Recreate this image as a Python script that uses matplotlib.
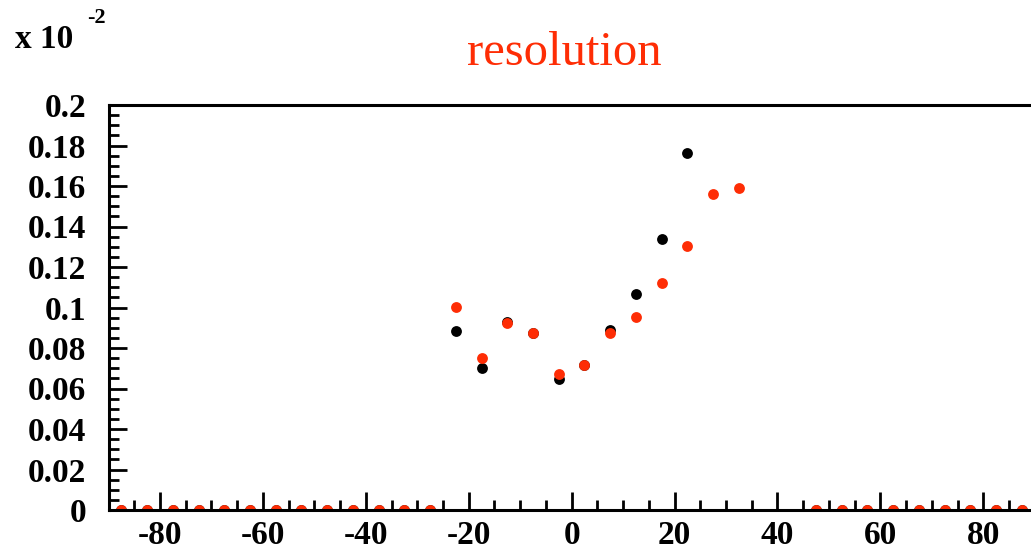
import numpy as np
import matplotlib
matplotlib.use("Agg")
import matplotlib.pyplot as plt
from matplotlib.ticker import MultipleLocator

plt.rcParams['axes.unicode_minus'] = False

# bin centres, 5 degree bins from -90 to 90
angle = np.arange(-87.5, 90, 5)

nan = np.nan
# resolution (x 10^-2), black set
res_black = [0, 0, 0, 0, 0, 0, 0, 0, 0, 0, 0, 0, 0,
             0.0884, 0.0700, 0.0927, 0.0876, 0.0645, 0.0715, 0.0887, 0.1065, 0.1338, 0.1765,
             nan, nan, nan, nan,
             0, 0, 0, 0, 0, 0, 0, 0, 0]
# resolution (x 10^-2), red set
res_red = [0, 0, 0, 0, 0, 0, 0, 0, 0, 0, 0, 0, 0,
           0.1004, 0.0752, 0.0922, 0.0876, 0.0673, 0.0715, 0.0876, 0.0952, 0.1123, 0.1302,
           0.1559, 0.1589, nan, nan,
           0, 0, 0, 0, 0, 0, 0, 0, 0]

red = '#fe2d05'
W, H = 1031, 551
fig = plt.figure(figsize=(W / 100, H / 100), dpi=100)
ax = fig.add_axes([108.5 / W, 1 - 510 / H, (1034.7 - 108.5) / W, 405 / H])

ax.plot(angle, res_black, 'o', color='black', ms=7.8, mew=0)
ax.plot(angle, res_red, 'o', color=red, ms=7.8, mew=0)

ax.set_xlim(-90, 90)
ax.set_ylim(0, 0.2)
ax.xaxis.set_major_locator(MultipleLocator(20))
ax.xaxis.set_minor_locator(MultipleLocator(5))
ax.yaxis.set_minor_locator(MultipleLocator(0.005))
ax.set_yticks(np.arange(0, 0.201, 0.02))
ax.set_yticklabels(['0', '0.02', '0.04', '0.06', '0.08', '0.1',
                    '0.12', '0.14', '0.16', '0.18', '0.2'])

for s in ax.spines.values():
    s.set_linewidth(2.2)
ax.spines['right'].set_visible(False)

ax.tick_params(which='both', direction='in', width=2, top=False, right=False)
ax.tick_params(which='major', length=13)
ax.tick_params(which='minor', length=7)
ax.tick_params(axis='y', pad=16)
ax.tick_params(axis='x', pad=7)
for lab in ax.get_xticklabels() + ax.get_yticklabels():
    lab.set_fontfamily('Liberation Serif')
    lab.set_fontweight('bold')
    lab.set_fontsize(24)

fig.text(564 / W, 1 - 65 / H, 'resolution', color=red, ha='center', va='baseline',
         fontsize=35, fontfamily='Liberation Serif')
fig.text(15 / W, 1 - 48 / H, 'x 10', ha='left', va='baseline',
         fontsize=24, fontweight='bold', fontfamily='Liberation Serif')
fig.text(87 / W, 1 - 23 / H, '-2', ha='left', va='baseline',
         fontsize=16, fontweight='bold', fontfamily='Liberation Serif')

fig.savefig('out.png', dpi=100)
